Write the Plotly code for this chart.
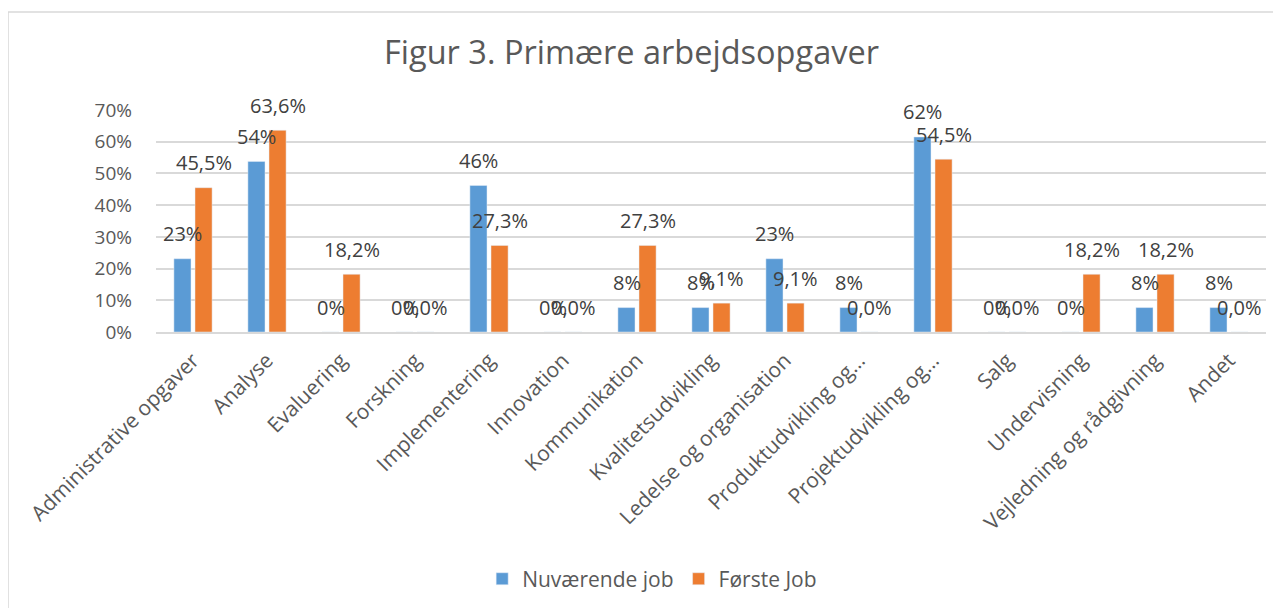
import plotly.graph_objects as go

# Kategorier og værdier (andel af respondenter)
kategorier = [
    "Administrative opgaver", "Analyse", "Evaluering", "Forskning",
    "Implementering", "Innovation", "Kommunikation", "Kvalitetsudvikling",
    "Ledelse og organisation", "Produktudvikling og…", "Projektudvikling og…",
    "Salg", "Undervisning", "Vejledning og rådgivning", "Andet",
]
nuvaerende_job = [0.231, 0.538, 0.0, 0.0, 0.462, 0.0, 0.077, 0.077,
                  0.231, 0.077, 0.615, 0.0, 0.0, 0.077, 0.077]
foerste_job = [0.455, 0.636, 0.182, 0.0, 0.273, 0.0, 0.273, 0.091,
               0.091, 0.0, 0.545, 0.0, 0.182, 0.182, 0.0]

BLAA = "#5B9BD5"
ORANGE = "#ED7D31"
FONT = "Open Sans"


def pct0(v):
    return f"{v * 100:.0f}%"


def pct1(v):
    return f"{v * 100:.1f}%".replace(".", ",")


fig = go.Figure()
fig.add_trace(go.Bar(x=kategorier, y=nuvaerende_job, name="Nuværende job",
                     marker_color=BLAA))
fig.add_trace(go.Bar(x=kategorier, y=foerste_job, name="Første Job",
                     marker_color=ORANGE))

# datalabels over søjlerne (som i Excel)
annotations = []
for serie, fmt, dx in [(nuvaerende_job, pct0, -10.5), (foerste_job, pct1, 10.5)]:
    for k, v in zip(kategorier, serie):
        annotations.append(dict(
            x=k, y=v, text=fmt(v), showarrow=False,
            xshift=dx, yshift=25, yanchor="middle",
            font=dict(family=FONT, size=20, color="#404040"),
        ))

# siden har 8px body-margen, så figuren er 1273x600
fig.update_layout(
    width=1273, height=600,
    margin=dict(l=148, r=15, t=102, b=276, autoexpand=False),
    paper_bgcolor="white", plot_bgcolor="white",
    barmode="group", bargap=0.43, bargroupgap=0.19,
    title=dict(text="Figur 3. Primære arbejdsopgaver", x=0.4898, xanchor="center",
               y=0.925, yanchor="middle",
               font=dict(family=FONT, size=32.5, color="#595959")),
    legend=dict(orientation="h", x=0.447, xanchor="center", y=-1.113, yanchor="middle",
                font=dict(family=FONT, size=21, color="#595959")),
    annotations=annotations,
    shapes=[dict(type="rect", xref="paper", yref="paper",
                 x0=-0.1333, x1=1.05, y0=-1.4, y1=1.4414,
                 line=dict(color="#D9D9D9", width=1.5), layer="below")],
)
fig.update_yaxes(range=[0, 0.7], dtick=0.1, tickformat=".0%", automargin=False,
                 showgrid=True, gridcolor="#D9D9D9", gridwidth=1.5,
                 zeroline=False, showline=False, ticklabelstandoff=23,
                 tickfont=dict(family=FONT, size=19, color="#595959"))
fig.update_xaxes(tickangle=-45, showline=True, linecolor="#D9D9D9", linewidth=1.5,
                 automargin=False, ticklabelstandoff=6,
                 tickfont=dict(family=FONT, size=21, color="#595959"))

fig.write_html("out.html")
